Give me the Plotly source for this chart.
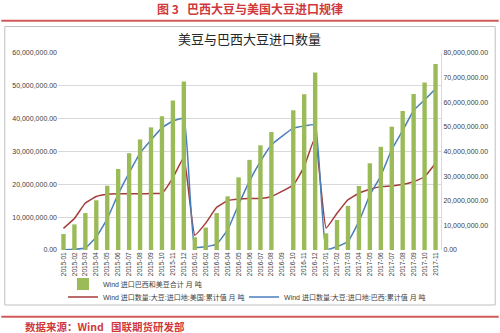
import plotly.graph_objects as go

months = [f"{y}-{m:02d}" for y in (2015, 2016) for m in range(1, 13)] + [f"2017-{m:02d}" for m in range(1, 12)]

# 合计 (right axis, tons, in millions)
total_m = [6.5, 10.4, 15.0, 20.2, 26.1, 32.9, 39.3, 44.9, 49.8, 54.3, 60.7, 68.4,
           5.2, 9.1, 15.0, 21.8, 29.5, 36.6, 42.5, 47.9, None, 56.8, 63.2, 72.1,
           6.8, 12.2, 17.9, 26.0, 35.2, 41.9, 50.1, 56.4, 63.3, 68.0, 75.5]
# 美国 累计值 (left axis, millions)
us_m = [6.6, 9.6, 14.3, 16.3, 17.0, 17.1, 17.1, 17.1, 17.2, 17.3, 22.0, 28.2,
        4.5, 8.2, 13.0, 15.0, 15.5, 15.7, 15.7, 16.3, None, 19.8, 25.4, 34.3,
        6.7, 11.2, 15.3, 17.3, 18.5, 19.3, 19.5, 20.0, 20.8, 22.3, 26.4]
# 巴西 累计值 (left axis, millions)
br_m = [0.05, 0.2, 0.6, 4.0, 9.5, 17.0, 23.5, 29.5, 33.5, 37.2, 39.3, 40.1,
        0.9, 1.0, 1.8, 6.1, 13.8, 21.0, 27.0, 32.0, None, 37.1, 37.8, 38.1,
        0.3, 1.0, 2.6, 8.7, 16.7, 22.6, 30.6, 36.4, 42.5, 45.7, 49.1]

def tons(v):
    return [None if x is None else x * 1e6 for x in v]

name_total = "Wind 进口巴西和美豆合计 月 吨"
name_us = "Wind 进口数量:大豆:进口地:美国:累计值 月 吨"
name_br = "Wind 进口数量:大豆:进口地:巴西:累计值 月 吨"

FONT = "Liberation Sans, Noto Sans CJK SC, sans-serif"
CJK = "Noto Sans CJK SC, sans-serif"

W, H = 500, 333
L, R, T, B = 57, 58, 53, 83
pw, ph = W - L - R, H - T - B

def px(x):
    return (x - L) / pw

def py(y):
    return (H - B - y) / ph

fig = go.Figure()
fig.add_trace(go.Bar(x=months, y=tons(total_m), name=name_total, yaxis="y2",
                     marker=dict(color="#9BBB59", line=dict(width=0)), legend="legend"))
fig.add_trace(go.Scatter(x=months, y=tons(us_m), name=name_us, mode="lines",
                         line=dict(color="#A33B38", width=1.5, shape="spline", smoothing=0.35),
                         connectgaps=True, legend="legend2"))
fig.add_trace(go.Scatter(x=months, y=tons(br_m), name=name_br, mode="lines",
                         line=dict(color="#4A7EBB", width=1.5, shape="spline", smoothing=0.35),
                         connectgaps=True, legend="legend3"))

leg_common = dict(orientation="h", xanchor="left", yanchor="middle",
                  font=dict(family=FONT, size=7, color="#404040"),
                  bgcolor="rgba(0,0,0,0)", itemwidth=30)

fig.update_layout(
    width=W, height=H,
    margin=dict(l=L, r=R, t=T, b=B),
    paper_bgcolor="white", plot_bgcolor="white",
    font=dict(family=FONT, size=7, color="#404040"),
    bargap=0.6,
    xaxis=dict(type="category", tickangle=-90, tickfont=dict(size=6.5, color="#404040"),
               showgrid=False, showline=False, ticks="", range=[-0.5, len(months) - 0.5]),
    yaxis=dict(range=[0, 60e6], dtick=10e6, tickformat=",.2f", showgrid=True,
               gridcolor="#D9D9D9", gridwidth=1, zeroline=False, ticks="",
               tickfont=dict(size=7, color="#404040"), showline=False),
    yaxis2=dict(range=[0, 80e6], dtick=10e6, tickformat=",.2f", overlaying="y", side="right",
                showgrid=False, zeroline=False, ticks="", showline=True, linecolor="#D9D9D9",
                tickfont=dict(size=7, color="#404040")),
    legend=dict(x=px(62), y=py(284), **leg_common),
    legend2=dict(x=px(62), y=py(297), **leg_common),
    legend3=dict(x=px(244), y=py(297), **leg_common),
    showlegend=True,
)

shapes = [
    dict(type="line", xref="paper", yref="paper", x0=px(0), x1=px(500), y0=py(20.7), y1=py(20.7),
         line=dict(color="#D05A5A", width=2)),
    dict(type="rect", xref="paper", yref="paper", x0=px(3.5), x1=px(496.5), y0=py(26.5), y1=py(305),
         line=dict(color="#BFBFBF", width=1)),
    dict(type="line", xref="paper", yref="paper", x0=px(0), x1=px(500), y0=py(316.7), y1=py(316.7),
         line=dict(color="#D05A5A", width=2)),
]
fig.update_layout(shapes=shapes)

ann = [
    dict(text="<b>图 3   巴西大豆与美国大豆进口规律</b>", x=px(250), y=py(8), xref="paper", yref="paper",
         showarrow=False, xanchor="center", yanchor="middle",
         font=dict(family=CJK, size=12, color="#D0393B")),
    dict(text="美豆与巴西大豆进口数量", x=px(250), y=py(38), xref="paper", yref="paper",
         showarrow=False, xanchor="center", yanchor="middle",
         font=dict(family=CJK, size=13, color="#262626")),
    dict(text="<b>数据来源：Wind   国联期货研发部</b>", x=px(22), y=py(326), xref="paper", yref="paper",
         showarrow=False, xanchor="left", yanchor="middle",
         font=dict(family=CJK, size=10.5, color="#D0393B")),
]
fig.update_layout(annotations=ann)

fig.write_html("out.html")
